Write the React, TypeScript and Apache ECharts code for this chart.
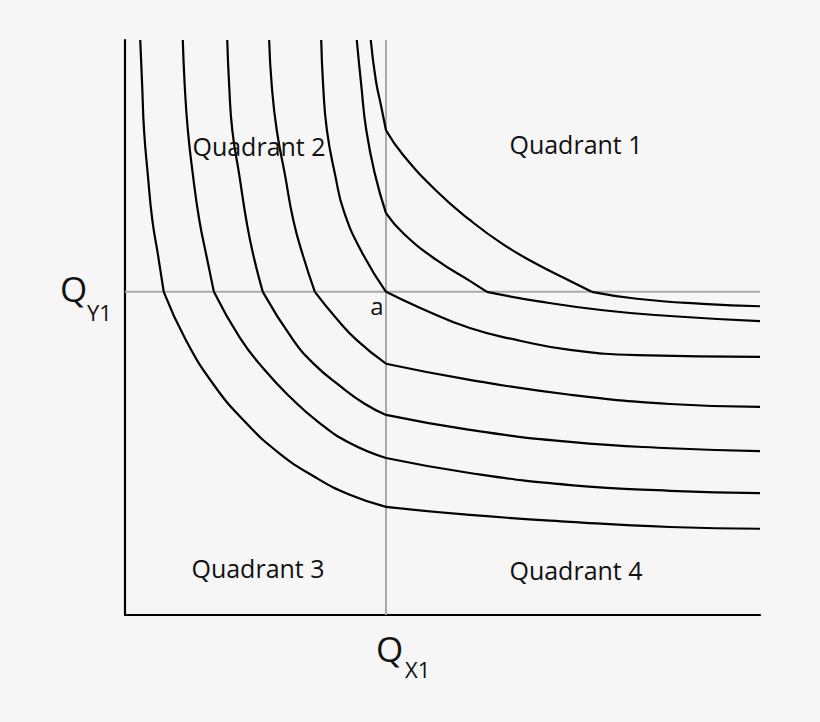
import React, { useEffect, useRef } from "react";
import * as echarts from "echarts";

// Reference quantities (kink point "a")
const QX1 = 41.1;
const QY1 = 56.2;

// Indifference curves, each split into segments at its kinks: [x, y] in axis units (0..100)
const curve1 = [
  [[38.7, 100], [39.5, 93.0], [40.3, 88.7], [41.1, 84.3]],
  [[41.1, 84.3], [43.8, 80.0], [49.1, 73.7], [54.3, 68.7], [59.5, 64.5], [64.9, 61.0], [70.1, 58.1], [73.5, 56.2]],
  [[73.5, 56.2], [80.6, 55.0], [91.0, 54.1], [100, 53.7]],
];
const curve2 = [
  [[36.5, 100], [37.2, 92.2], [38.0, 84.3], [39.4, 76.5], [41.1, 69.9]],
  [[41.1, 69.9], [43.9, 66.3], [49.1, 61.7], [54.3, 58.1], [57.0, 56.2]],
  [[57.0, 56.2], [64.9, 54.6], [75.3, 53.0], [85.8, 52.0], [100, 51.1]],
];
const curve3 = [
  [[30.9, 100], [31.2, 92.2], [31.8, 84.3], [33.1, 76.5], [34.5, 70.1], [37.3, 63.1], [41.1, 56.2]],
  [[41.1, 56.2], [46.5, 53.4], [54.3, 49.9], [62.2, 47.7], [70.1, 46.1], [80.6, 45.2], [100, 44.9]],
];
const curve4 = [
  [[22.7, 100], [23.1, 92.2], [23.9, 84.3], [25.2, 76.5], [26.5, 68.7], [28.0, 62.6], [29.9, 56.2]],
  [[29.9, 56.2], [33.2, 51.7], [36.5, 47.8], [41.1, 43.7]],
  [[41.1, 43.7], [54.3, 40.9], [70.1, 38.3], [85.8, 36.7], [100, 36.2]],
];
const curve5 = [
  [[16.1, 100], [16.4, 92.2], [16.9, 84.3], [18.0, 76.5], [19.1, 68.7], [20.2, 62.6], [21.7, 56.2]],
  [[21.7, 56.2], [26.5, 47.8], [29.9, 43.5], [33.9, 39.8], [37.8, 36.7], [41.1, 34.8]],
  [[41.1, 34.8], [54.3, 32.2], [70.1, 30.1], [85.8, 29.0], [100, 28.5]],
];
const curve6 = [
  [[9.1, 100], [9.4, 92.2], [9.9, 84.3], [10.7, 76.5], [11.7, 68.7], [12.8, 62.6], [14.0, 56.2]],
  [[14.0, 56.2], [18.1, 48.2], [22.0, 42.6], [26.0, 37.9], [30.4, 33.6], [35.4, 29.9], [41.1, 27.3]],
  [[41.1, 27.3], [54.3, 24.7], [70.1, 22.6], [85.8, 21.6], [100, 21.2]],
];
const curve7 = [
  [[2.4, 100], [2.7, 92.2], [3.0, 84.3], [3.6, 76.5], [4.3, 68.7], [5.2, 62.6], [6.1, 56.2]],
  [[6.1, 56.2], [9.6, 47.8], [14.0, 40.0], [18.9, 33.6], [24.1, 28.3], [29.9, 24.0], [35.4, 20.9], [41.1, 18.8]],
  [[41.1, 18.8], [54.3, 17.4], [70.1, 16.2], [85.8, 15.3], [100, 15.0]],
];
const curves = [curve1, curve2, curve3, curve4, curve5, curve6, curve7];

const quadrantLabels = ["Quadrant 1", "Quadrant 2", "Quadrant 3", "Quadrant 4"];

const FONT = "'Open Sans', 'Noto Sans', sans-serif";
const INK = "#000000";

export default function App() {
  const ref = useRef<HTMLDivElement>(null);

  useEffect(() => {
    if (!ref.current) return;
    const chart = echarts.init(ref.current, null, { renderer: "svg" });

    const series: any[] = [
      {
        type: "line",
        data: [[QX1, 0], [QX1, 100]],
        showSymbol: false,
        lineStyle: { color: "#a9a9a9", width: 2 },
        silent: true,
        z: 1,
      },
      {
        type: "line",
        data: [[0, QY1], [100, QY1]],
        showSymbol: false,
        lineStyle: { color: "#a9a9a9", width: 2 },
        silent: true,
        z: 1,
      },
    ];
    curves.forEach((c) => {
      c.forEach((seg) => {
        series.push({
          type: "line",
          data: seg,
          smooth: 0.5,
          showSymbol: false,
          lineStyle: { color: INK, width: 2.2 },
          silent: true,
          z: 3,
        });
      });
    });

    const txt = (text: string, x: number, y: number, size: number, align = "center") => ({
      type: "text",
      x,
      y,
      style: {
        text,
        fill: "#111111",
        font: `${size}px ${FONT}`,
        textAlign: align,
        textVerticalAlign: "middle",
      },
      z: 10,
    });

    chart.setOption({
      animation: false,
      backgroundColor: "#f6f6f6",
      grid: { left: 125, right: 60, top: 40, bottom: 107 },
      xAxis: {
        type: "value",
        min: 0,
        max: 100,
        axisLine: { show: true, lineStyle: { color: INK, width: 2.2 } },
        axisTick: { show: false },
        axisLabel: { show: false },
        splitLine: { show: false },
      },
      yAxis: {
        type: "value",
        min: 0,
        max: 100,
        axisLine: { show: true, lineStyle: { color: INK, width: 2.2 } },
        axisTick: { show: false },
        axisLabel: { show: false },
        splitLine: { show: false },
      },
      series,
      graphic: [
        txt(quadrantLabels[0], 576, 144, 25),
        txt(quadrantLabels[1], 259, 146, 25),
        txt(quadrantLabels[2], 258, 568, 25),
        txt(quadrantLabels[3], 576, 570, 25),
        txt("a", 377, 305, 24),
        txt("Q", 60, 288, 35, "left"),
        txt("Y1", 87, 312, 22, "left"),
        txt("Q", 376, 648, 35, "left"),
        txt("X1", 405, 669, 22, "left"),
      ],
    });

    return () => chart.dispose();
  }, []);

  return (
    <div
      ref={ref}
      style={{ position: "fixed", left: 0, top: 0, width: 820, height: 722 }}
    />
  );
}
